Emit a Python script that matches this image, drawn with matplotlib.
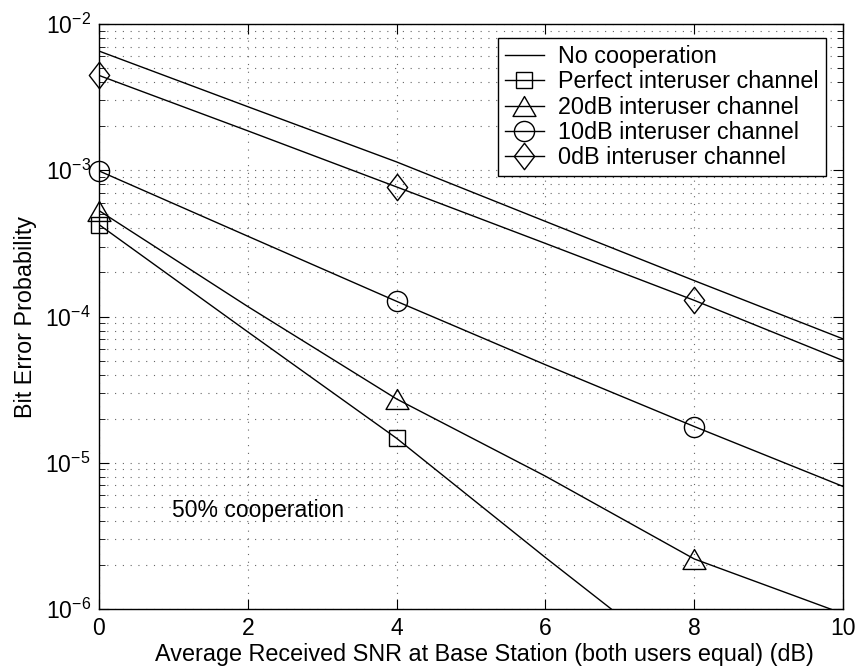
import matplotlib
matplotlib.use("Agg")
import matplotlib.pyplot as plt
from matplotlib.lines import Line2D
from matplotlib.path import Path
from matplotlib.ticker import LogLocator, FixedLocator, NullFormatter
import numpy as np

plt.rcParams['font.family'] = ['Liberation Sans', 'DejaVu Sans']
plt.rcParams['mathtext.fontset'] = 'custom'
plt.rcParams['mathtext.rm'] = 'Liberation Sans'
plt.rcParams['mathtext.it'] = 'Liberation Sans'

snr_db = [0, 2, 4, 6, 8, 10]
no_coop = [6.53e-3, 2.72e-3, 1.14e-3, 4.47e-4, 1.76e-4, 7.03e-5]
perfect = [4.25e-4, 7.85e-5, 1.47e-5, 2.25e-6, 3.6e-7, 6.3e-8]
ch_20db = [5.3e-4, 1.17e-4, 2.73e-5, 8.1e-6, 2.2e-6, 9.3e-7]
ch_10db = [9.9e-4, 3.54e-4, 1.27e-4, 4.68e-5, 1.77e-5, 6.89e-6]
ch_0db = [4.45e-3, 1.86e-3, 7.69e-4, 3.16e-4, 1.29e-4, 5.0e-5]
marker_idx = [0, 2, 4]

labels = ["No cooperation", "Perfect interuser channel", "20dB interuser channel",
          "10dB interuser channel", "0dB interuser channel"]
x_ticks = [0, 2, 4, 6, 8, 10]
y_ticks = [1e-6, 1e-5, 1e-4, 1e-3, 1e-2]
y_tick_labels = [r"$10^{-6}$", r"$10^{-5}$", r"$10^{-4}$", r"$10^{-3}$", r"$10^{-2}$"]

tri = Path([(0, 0.87), (-1, -0.87), (1, -0.87), (0, 0.87)],
           [Path.MOVETO, Path.LINETO, Path.LINETO, Path.CLOSEPOLY])
dia = Path([(0, 1), (0.77, 0), (0, -1), (-0.77, 0), (0, 1)],
           [Path.MOVETO, Path.LINETO, Path.LINETO, Path.LINETO, Path.CLOSEPOLY])

series = [
    (no_coop, None, 0),
    (perfect, 's', 12),
    (ch_20db, tri, 16.5),
    (ch_10db, 'o', 14.5),
    (ch_0db, dia, 19),
]

FS = 16.8
fig = plt.figure(figsize=(8.57, 6.70), dpi=100)
ax = fig.add_axes([0.1155, 0.0910, 0.8682, 0.8732])
ymin, ymax = 1e-6, 1e-2

handles = []
for (vals, mk, ms), lab in zip(series, labels):
    ax.plot(snr_db, vals, color='black', lw=1.0)
    if mk is not None:
        pts = [(snr_db[i], vals[i]) for i in marker_idx if ymin <= vals[i] <= ymax]
        ax.plot([p[0] for p in pts], [p[1] for p in pts], linestyle='none',
                marker=mk, markersize=ms, markerfacecolor='none',
                markeredgecolor='black', markeredgewidth=1.0,
                clip_on=False, zorder=4)
    handles.append(Line2D([], [], color='black', lw=1.0,
                          marker=mk if mk is not None else None,
                          markersize=ms, markerfacecolor='none',
                          markeredgecolor='black', markeredgewidth=1.0))

ax.set_yscale('log')
ax.set_xlim(0, 10)
ax.set_ylim(ymin, ymax)
ax.xaxis.set_major_locator(FixedLocator(x_ticks))
ax.set_xticklabels([str(t) for t in x_ticks])
ax.yaxis.set_major_locator(FixedLocator(y_ticks))
ax.set_yticklabels(y_tick_labels)
ax.yaxis.set_minor_locator(LogLocator(base=10, subs=np.arange(2, 10)))
ax.yaxis.set_minor_formatter(NullFormatter())

ax.tick_params(axis='both', which='both', direction='in', top=True, right=True,
               labelsize=16.5, colors='black')
ax.tick_params(axis='both', which='major', length=7, width=0.8, pad=6)
ax.tick_params(axis='y', which='minor', length=4, width=0.6)

gstyle = dict(color='0.4', linestyle=(0, (1, 6)), linewidth=0.8)
ax.grid(True, which='major', axis='both', **gstyle)
ax.grid(True, which='minor', axis='y', **gstyle)

for sp in ax.spines.values():
    sp.set_linewidth(1.0)
    sp.set_color('black')

ax.set_xlabel("Average Received SNR at Base Station (both users equal) (dB)",
              fontsize=FS)
ax.xaxis.set_label_coords((484.5 - 99) / 744, (609 - 643) / 585)
ax.set_ylabel("Bit Error Probability", fontsize=FS, labelpad=6)

ax.text(0.977, 4.7e-6, "50% cooperation", fontsize=16.5, va='center', ha='left')

leg = ax.legend(handles, labels, loc='upper right', bbox_to_anchor=(0.977, 0.976),
                fontsize=FS, frameon=True, fancybox=False, framealpha=1,
                edgecolor='black', handlelength=1.7, handletextpad=0.6,
                labelspacing=0.1, borderpad=0.3, borderaxespad=0.0)
leg.get_frame().set_linewidth(1.0)

fig.savefig("out.png", dpi=100)
